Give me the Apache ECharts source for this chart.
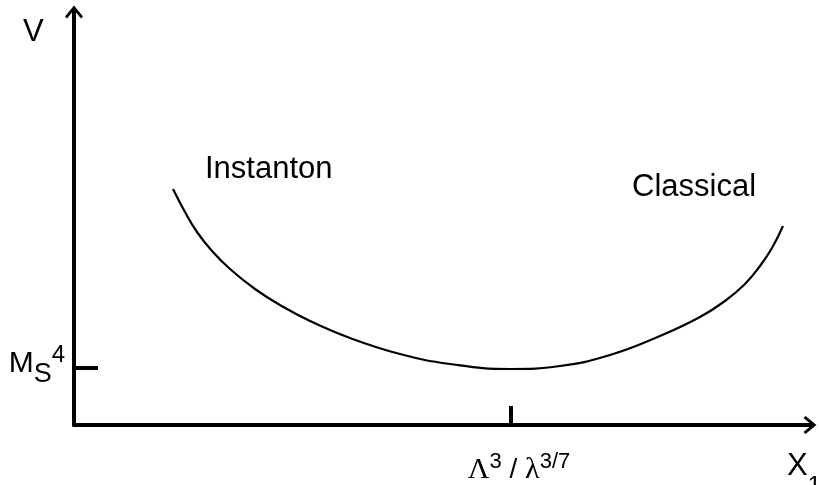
<!DOCTYPE html>
<html>
<head>
<meta charset="utf-8">
<script src="https://cdn.jsdelivr.net/npm/echarts@6/dist/echarts.min.js"></script>
<style>
  html, body { margin: 0; padding: 0; background: #fff; }
  #chart { width: 819px; height: 485px; }
</style>
</head>
<body>
<div id="chart"></div>
<script>
// curve (arbitrary units, origin at the axes corner)
const curveX = [99, 111, 123, 138, 156, 181, 206, 236, 276, 326, 376, 436, 486, 536, 586, 626, 651, 671, 686, 698, 709]
const curveY = [236, 213, 193, 174, 156, 136, 120, 104, 87, 71, 61, 56, 59, 70, 89, 108, 124, 141, 159, 177, 199]

// marked positions on the axes
const xTickValues = [437]
const xTickLabels = ['{g|Λ}{sup|3}{n| / }{g|λ}{sup|3/7}']
const yTickValues = [57]
const yTickLabels = ['{m|M}{sub|S}{sup|4}']

const chart = echarts.init(document.getElementById('chart'))

const chevron = 'path://M0,0 L9,11 L7,13 L0,4.5 L-7,13 L-9,11 Z'

const richX = {
  n: { fontFamily: 'Liberation Sans', fontSize: 28, color: '#000' },
  g: { fontFamily: 'Liberation Serif', fontSize: 30, color: '#000' },
  sup: { fontFamily: 'Liberation Sans', fontSize: 22, color: '#000', padding: [0, 0, 16, 0] }
}

const richY = {
  m: { fontFamily: 'Liberation Sans', fontSize: 30, color: '#000' },
  sub: { fontFamily: 'Liberation Sans', fontSize: 27, color: '#000', padding: [22, 0, 0, 0] },
  sup: { fontFamily: 'Liberation Sans', fontSize: 24, color: '#000', padding: [0, 0, 18, 0] }
}

const richName = {
  m: { fontFamily: 'Liberation Sans', fontSize: 31, color: '#000' },
  sub: { fontFamily: 'Liberation Sans', fontSize: 24, color: '#000', padding: [40, 0, 0, 0] }
}

const option = {
  backgroundColor: '#fff',
  animation: false,
  grid: { left: 74, right: 7, top: 10, bottom: 60 },
  xAxis: {
    type: 'value',
    min: 0,
    max: 738,
    splitLine: { show: false },
    axisLine: {
      show: true,
      lineStyle: { color: '#000', width: 4 },
      symbol: ['none', chevron],
      symbolSize: [18, 16],
      symbolOffset: [0, -2]
    },
    axisTick: {
      show: true,
      inside: true,
      length: 19,
      lineStyle: { color: '#000', width: 4 },
      customValues: xTickValues
    },
    axisLabel: {
      show: true,
      margin: 26,
      padding: [0, 0, 0, 16],
      customValues: xTickValues,
      formatter: (v) => xTickLabels[xTickValues.indexOf(v)] || '',
      rich: richX
    }
  },
  yAxis: {
    type: 'value',
    min: 0,
    max: 415,
    splitLine: { show: false },
    axisLine: {
      show: true,
      lineStyle: { color: '#000', width: 4 },
      symbol: ['none', chevron],
      symbolSize: [18, 16],
      symbolOffset: [0, -2]
    },
    axisTick: {
      show: true,
      inside: true,
      length: 24,
      lineStyle: { color: '#000', width: 4 },
      customValues: yTickValues
    },
    axisLabel: {
      show: true,
      margin: 9,
      padding: [0, 0, 8, 0],
      customValues: yTickValues,
      formatter: (v) => yTickLabels[yTickValues.indexOf(v)] || '',
      rich: richY
    }
  },
  graphic: [
    { type: 'text', left: 23, top: 17, style: { text: 'V', font: '31px "Liberation Sans"', fill: '#000' } },
    { type: 'text', left: 787, top: 451, style: { text: '{m|X}{sub|1}', rich: richName } },
    { type: 'text', left: 205, top: 154, style: { text: 'Instanton', font: '31px "Liberation Sans"', fill: '#000' } },
    { type: 'text', left: 632, top: 172, style: { text: 'Classical', font: '31px "Liberation Sans"', fill: '#000' } }
  ],
  series: [
    {
      type: 'line',
      data: curveX.map((x, i) => [x, curveY[i]]),
      smooth: 0.45,
      showSymbol: false,
      lineStyle: { color: '#000', width: 2.2 }
    }
  ]
}

chart.setOption(option)
</script>
</body>
</html>
